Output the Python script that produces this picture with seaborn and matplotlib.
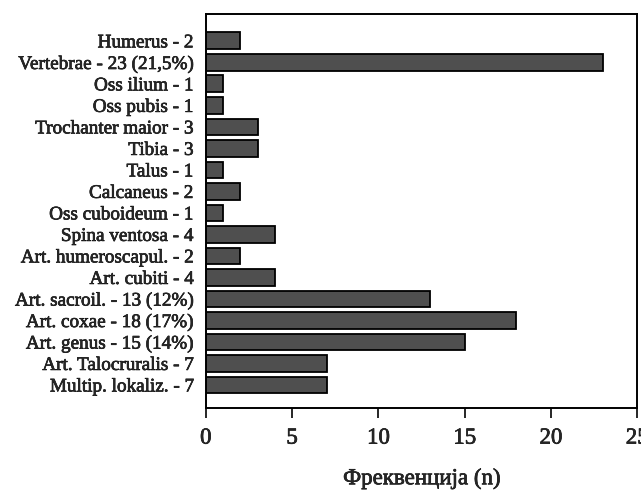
import matplotlib
matplotlib.use("Agg")
import matplotlib.pyplot as plt
import matplotlib.patheffects as pe
import seaborn as sns
import pandas as pd

labels = ["Humerus - 2", "Vertebrae - 23 (21,5%)", "Oss ilium - 1", "Oss pubis - 1",
          "Trochanter maior - 3", "Tibia - 3", "Talus - 1", "Calcaneus - 2",
          "Oss cuboideum - 1", "Spina ventosa - 4", "Art. humeroscapul. - 2",
          "Art. cubiti - 4", "Art. sacroil. - 13 (12%)", "Art. coxae - 18 (17%)",
          "Art. genus - 15 (14%)", "Art. Talocruralis - 7", "Multip. lokaliz. - 7"]
counts = [2, 23, 1, 1, 3, 3, 1, 2, 1, 4, 2, 4, 13, 18, 15, 7, 7]
x_ticks = [0, 5, 10, 15, 20, 25]

sns.set_style("ticks")
plt.rcParams['font.family'] = ['Liberation Serif', 'DejaVu Serif']

df = pd.DataFrame({"label": labels, "n": counts})

fig = plt.figure(figsize=(6.41, 4.90), dpi=100)
ax = fig.add_axes([0.321, 0.167, 0.673, 0.804])

sns.barplot(data=df, x="n", y="label", orient="h", color="#4f4f4f",
            edgecolor="black", linewidth=1.3, width=0.78, saturation=1, ax=ax)

ax.set_xlim(0, 25)
ax.set_ylim(len(labels) - 1 + 1.08, -1.24)
ax.set_xticks(x_ticks)
ax.set_xticklabels([str(t) for t in x_ticks], fontsize=16.5)
ax.tick_params(axis="x", direction="out", length=7, width=1.4, pad=7)
ax.tick_params(axis="y", length=0, labelsize=13.8, pad=9)
ax.set_ylabel("")
ax.set_xlabel("Фреквенција (n)", fontsize=16.5, labelpad=14)

# heavier text like the original print
thick = [pe.withStroke(linewidth=0.45, foreground="black")]
for t in ax.get_xticklabels() + ax.get_yticklabels() + [ax.xaxis.label]:
    t.set_path_effects(thick)

for s in ax.spines.values():
    s.set_visible(True)
    s.set_linewidth(1.4)
    s.set_color("black")

fig.savefig("out.png", dpi=100)
